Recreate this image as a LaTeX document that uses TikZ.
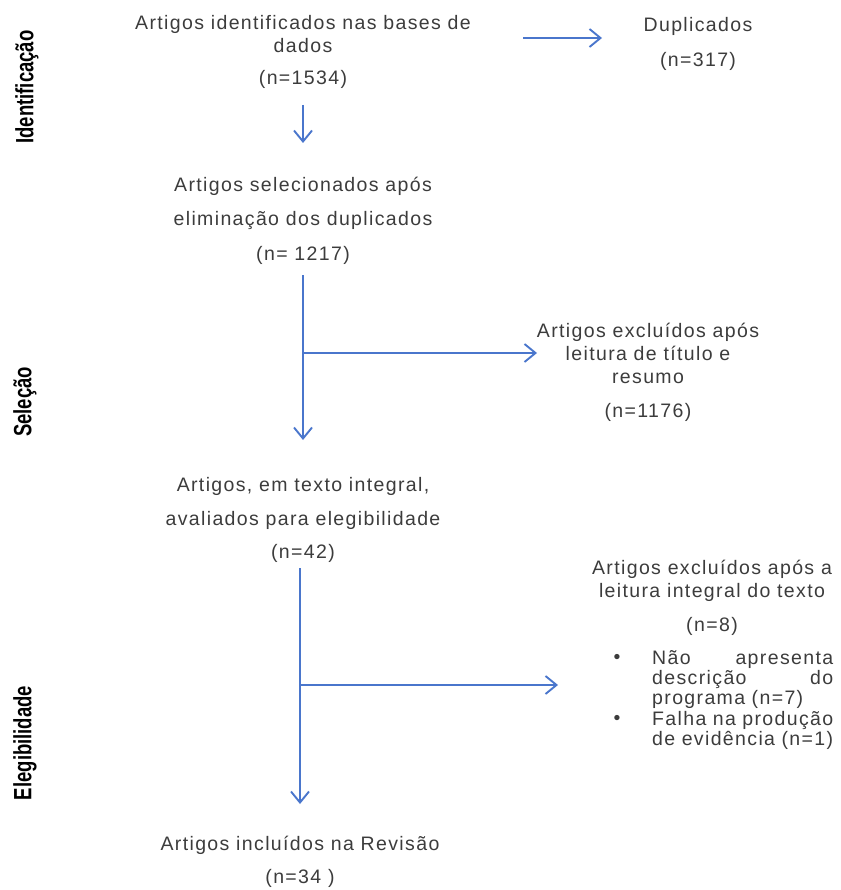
\documentclass[tikz,border=0pt]{standalone}
\usepackage{fontspec}
\setmainfont{Liberation Sans}[LetterSpace=7]
\newfontfamily\lblfont{Liberation Sans}[FakeStretch=0.74]
\usetikzlibrary{arrows.meta}
\definecolor{txt}{HTML}{3C3C3C}
\definecolor{arrc}{HTML}{4A76CC}
\begin{document}
\begin{tikzpicture}[x=1pt,y=-1pt,
  box/.style={align=center, text=txt, font=\fontsize{19.5}{23}\selectfont, inner sep=0pt},
  phase/.style={rotate=90, font=\lblfont\bfseries\fontsize{25}{28}\selectfont, inner sep=0pt},
  arr/.style={draw=arrc, line width=1.9pt, -{Straight Barb[length=11pt,width=18pt]}},
  ln/.style={draw=arrc, line width=1.9pt}]
\useasboundingbox (0,0) rectangle (840,890);
% phase labels
\node[phase] (p1) at (27,87) {Identificação};
\node[phase] (p2) at (25,402) {Seleção};
\node[phase] (p3) at (25,743) {Elegibilidade};
% boxes
\node[box] (n1) at (303,52) {Artigos identificados nas bases de\\dados\\[9pt](n=1534)};
\node[box] (dup) at (698,43.5) {Duplicados\\[12pt](n=317)};
\node[box] (n2) at (303,221) {Artigos selecionados após\\[11pt]eliminação dos duplicados\\[12pt](n= 1217)};
\node[box] (ex1) at (648,372) {Artigos excluídos após\\leitura de título e\\resumo\\[11pt](n=1176)};
\node[box] (n3) at (303,519.5) {Artigos, em texto integral,\\[11pt]avaliados para elegibilidade\\[10pt](n=42)};
\node[box] (ex2) at (712,597.5) {Artigos excluídos após a\\leitura integral do texto\\[11pt](n=8)};
\node[box, align=left, text width=181pt, font=\fontsize{19.5}{20.3}\selectfont, anchor=north west] (ex2l) at (652,650)
  {Não\hfill apresenta\\descrição\hfill do\\programa (n=7)\\Falha\hfill na\hfill produção\\de evidência (n=1)};
\node[box] (bu1) at (617,659) {•};
\node[box] (bu2) at (617,720) {•};
\node[box] (fin) at (300,862) {Artigos incluídos na Revisão\\[10pt](n=34 )};
% connector points
\coordinate (a1s) at (523,38);  \coordinate (a1e) at (602,38);
\coordinate (a2s) at (303,105); \coordinate (a2e) at (303,143);
\coordinate (a3s) at (303,275); \coordinate (a3e) at (303,440);
\coordinate (a3b) at (303,353); \coordinate (a3t) at (537,353);
\coordinate (a4s) at (300,568); \coordinate (a4e) at (300,804);
\coordinate (a4b) at (300,685); \coordinate (a4t) at (558,685);
% connectors
\draw[arr] (a1s) -- (a1e);
\draw[arr] (a2s) -- (a2e);
\draw[arr] (a3s) -- (a3e);
\draw[arr] (a3b) -- (a3t);
\draw[arr] (a4s) -- (a4e);
\draw[arr] (a4b) -- (a4t);
\end{tikzpicture}
\end{document}
